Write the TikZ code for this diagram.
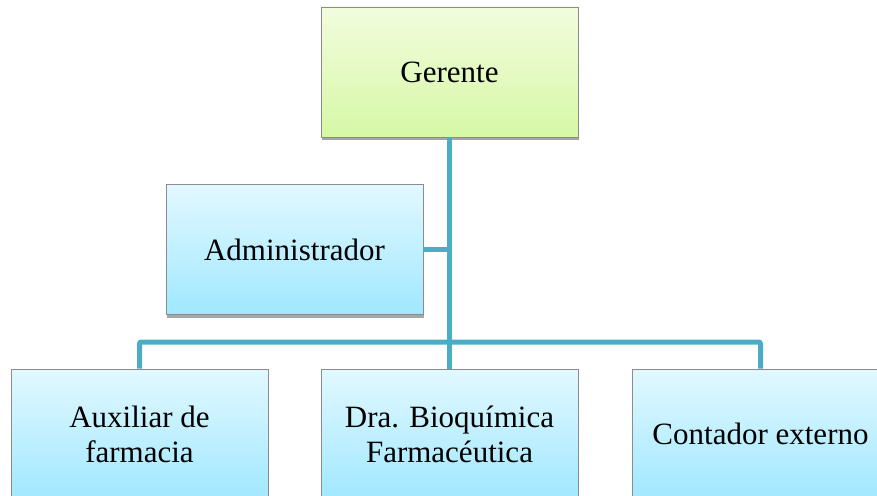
\documentclass[tikz,border=0pt]{standalone}
\usepackage{fontspec}
\setmainfont{Liberation Serif}
\usetikzlibrary{shadows}
\definecolor{connc}{RGB}{75,172,198}
\definecolor{boxborder}{RGB}{140,140,140}
\definecolor{greentop}{RGB}{242,252,222}
\definecolor{greenbot}{RGB}{214,248,166}
\definecolor{bluetop}{RGB}{226,248,255}
\definecolor{bluebot}{RGB}{160,232,255}
\begin{document}
\begin{tikzpicture}[x=1pt,y=1pt,
  orgbox/.style={draw=boxborder, line width=0.8pt, minimum width=257pt, minimum height=130pt,
    align=center, font=\fontsize{31}{35}\selectfont, text=black,
    drop shadow={shadow xshift=1pt, shadow yshift=-3pt, opacity=0.35, fill=black}},
  greenbox/.style={orgbox, top color=greentop, bottom color=greenbot},
  bluebox/.style={orgbox, top color=bluetop, bottom color=bluebot},
  conn/.style={draw=connc, line width=5pt, rounded corners=2pt}]
\useasboundingbox (0,0) rectangle (877,-495);
\begin{scope}
\clip (0,0) rectangle (877,-495);
\coordinate (bus) at (449.5,-342);
\node[greenbox] (ger) at (449.5,-72) {Gerente};
\node[bluebox] (adm) at (294.5,-249.5) {Administrador};
\node[bluebox] (aux) at (139.5,-434) {Auxiliar de\\farmacia};
\node[bluebox] (dra) at (449.5,-434) {Dra. Bioquímica\\Farmacéutica};
\node[bluebox] (con) at (760.5,-434) {Contador externo};
\begin{scope}[on background layer/.try]
\end{scope}
\draw[conn] (ger.south) -- (dra.north);
\draw[conn] (aux.north) -- (aux.north |- bus) -- (con.north |- bus) -- (con.north);
\draw[conn] (adm.east) -- (adm.east -| ger.south);
\end{scope}
\end{tikzpicture}
\end{document}
